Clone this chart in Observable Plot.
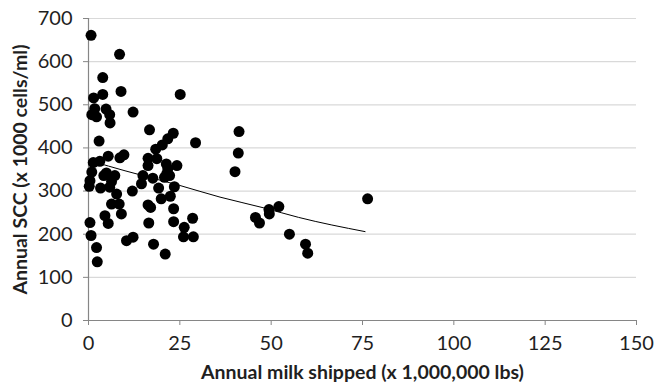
<!DOCTYPE html>
<html>
<head>
<meta charset="utf-8">
<script src="https://cdn.jsdelivr.net/npm/d3@7"></script>
<script src="https://cdn.jsdelivr.net/npm/@observablehq/plot@0.6"></script>
<style>
  html, body { margin: 0; padding: 0; background: #fff; }
</style>
</head>
<body>
<div id="chart"></div>
<script>
// Annual milk shipped (x 1,000,000 lbs)
const milk = [0.7, 8.5, 3.9, 3.9, 8.9, 1.4, 1.7, 0.9, 2.2, 4.8, 5.8, 5.9, 12.2, 25.1, 16.7, 23.2, 21.7, 2.9,
  29.3, 41.2, 41.0, 40.1, 18.4, 20.2, 5.4, 8.6, 9.7, 1.3, 3.1, 0.9, 0.4, 0.2, 4.2, 4.9, 7.2, 6.3, 3.3, 5.8,
  7.7, 6.3, 8.4, 9.0, 4.5, 5.4, 0.4, 0.7, 2.2, 2.4, 12.0, 10.4, 12.2, 16.3, 16.3, 18.7, 14.9, 17.6, 14.5,
  19.2, 21.3, 21.7, 21.4, 20.8, 22.2, 24.2, 23.5, 19.9, 22.4, 16.3, 17.0, 16.5, 23.3, 23.3, 17.8, 21.0,
  28.5, 26.2, 26.0, 28.7, 45.7, 46.8, 49.4, 49.5, 52.1, 55.0, 59.4, 60.0, 76.4];
// Annual SCC (x 1000 cells/ml)
const scc = [661, 617, 563, 524, 531, 516, 491, 477, 472, 490, 477, 458, 483, 524, 442, 434, 421, 416,
  412, 438, 388, 345, 397, 407, 381, 377, 384, 366, 369, 344, 324, 311, 336, 342, 336, 322, 307, 309,
  293, 270, 270, 247, 243, 225, 227, 197, 169, 136, 300, 185, 193, 376, 359, 375, 336, 330, 317,
  307, 363, 352, 340, 332, 336, 359, 310, 282, 288, 268, 262, 226, 259, 229, 177, 154,
  237, 216, 194, 194, 239, 226, 257, 247, 264, 200, 177, 156, 282];
// Trend line
const trendX = [1, 10, 25, 36, 48, 57.5, 75.7];
const trendY = [369, 347, 313, 286, 261, 239, 206];

const xTicks = [0, 25, 50, 75, 100, 125, 150];
const yTicks = [0, 100, 200, 300, 400, 500, 600, 700];
const xTitle = "Annual milk shipped (x 1,000,000 lbs)";
const yTitle = "Annual SCC (x 1000 cells/ml)";

const points = milk.map((x, i) => ({x, y: scc[i]}));
const trend = trendX.map((x, i) => ({x, y: trendY[i]}));

const chart = Plot.plot({
  width: 657,
  height: 390,
  marginLeft: 88,
  marginRight: 21,
  marginTop: 18,
  marginBottom: 70,
  style: {fontFamily: "Lato, 'Open Sans', sans-serif", fontSize: "20px", color: "#1f1f1f", background: "#fff"},
  x: {domain: [0, 150]},
  y: {domain: [0, 700]},
  marks: [
    Plot.gridY(yTicks, {stroke: "#d9d9d9", strokeOpacity: 1, strokeWidth: 1.2}),
    Plot.ruleX([0], {stroke: "#868686", strokeWidth: 1.2}),
    Plot.ruleY([0], {stroke: "#868686", strokeWidth: 1.2}),
    Plot.axisX(xTicks, {tickSize: 5, tickPadding: 10, stroke: "#868686", label: null, fontSize: 20}),
    Plot.axisY(yTicks, {tickSize: 5, tickPadding: 11, stroke: "#868686", label: null, fontSize: 20}),
    Plot.dot(points, {x: "x", y: "y", r: 5.5, fill: "#000", stroke: "none"}),
    Plot.line(trend, {x: "x", y: "y", stroke: "#000", strokeWidth: 1, curve: "monotone-x"}),
    Plot.text([xTitle], {frameAnchor: "bottom", dy: 58, fontWeight: "bold", fontSize: 19.5, fill: "#1f1f1f"}),
    Plot.text([yTitle], {frameAnchor: "left", dx: -68, rotate: -90, textAnchor: "middle", fontWeight: "bold", fontSize: 19.5, fill: "#1f1f1f"})
  ]
});
document.getElementById("chart").appendChild(chart);
</script>
</body>
</html>
